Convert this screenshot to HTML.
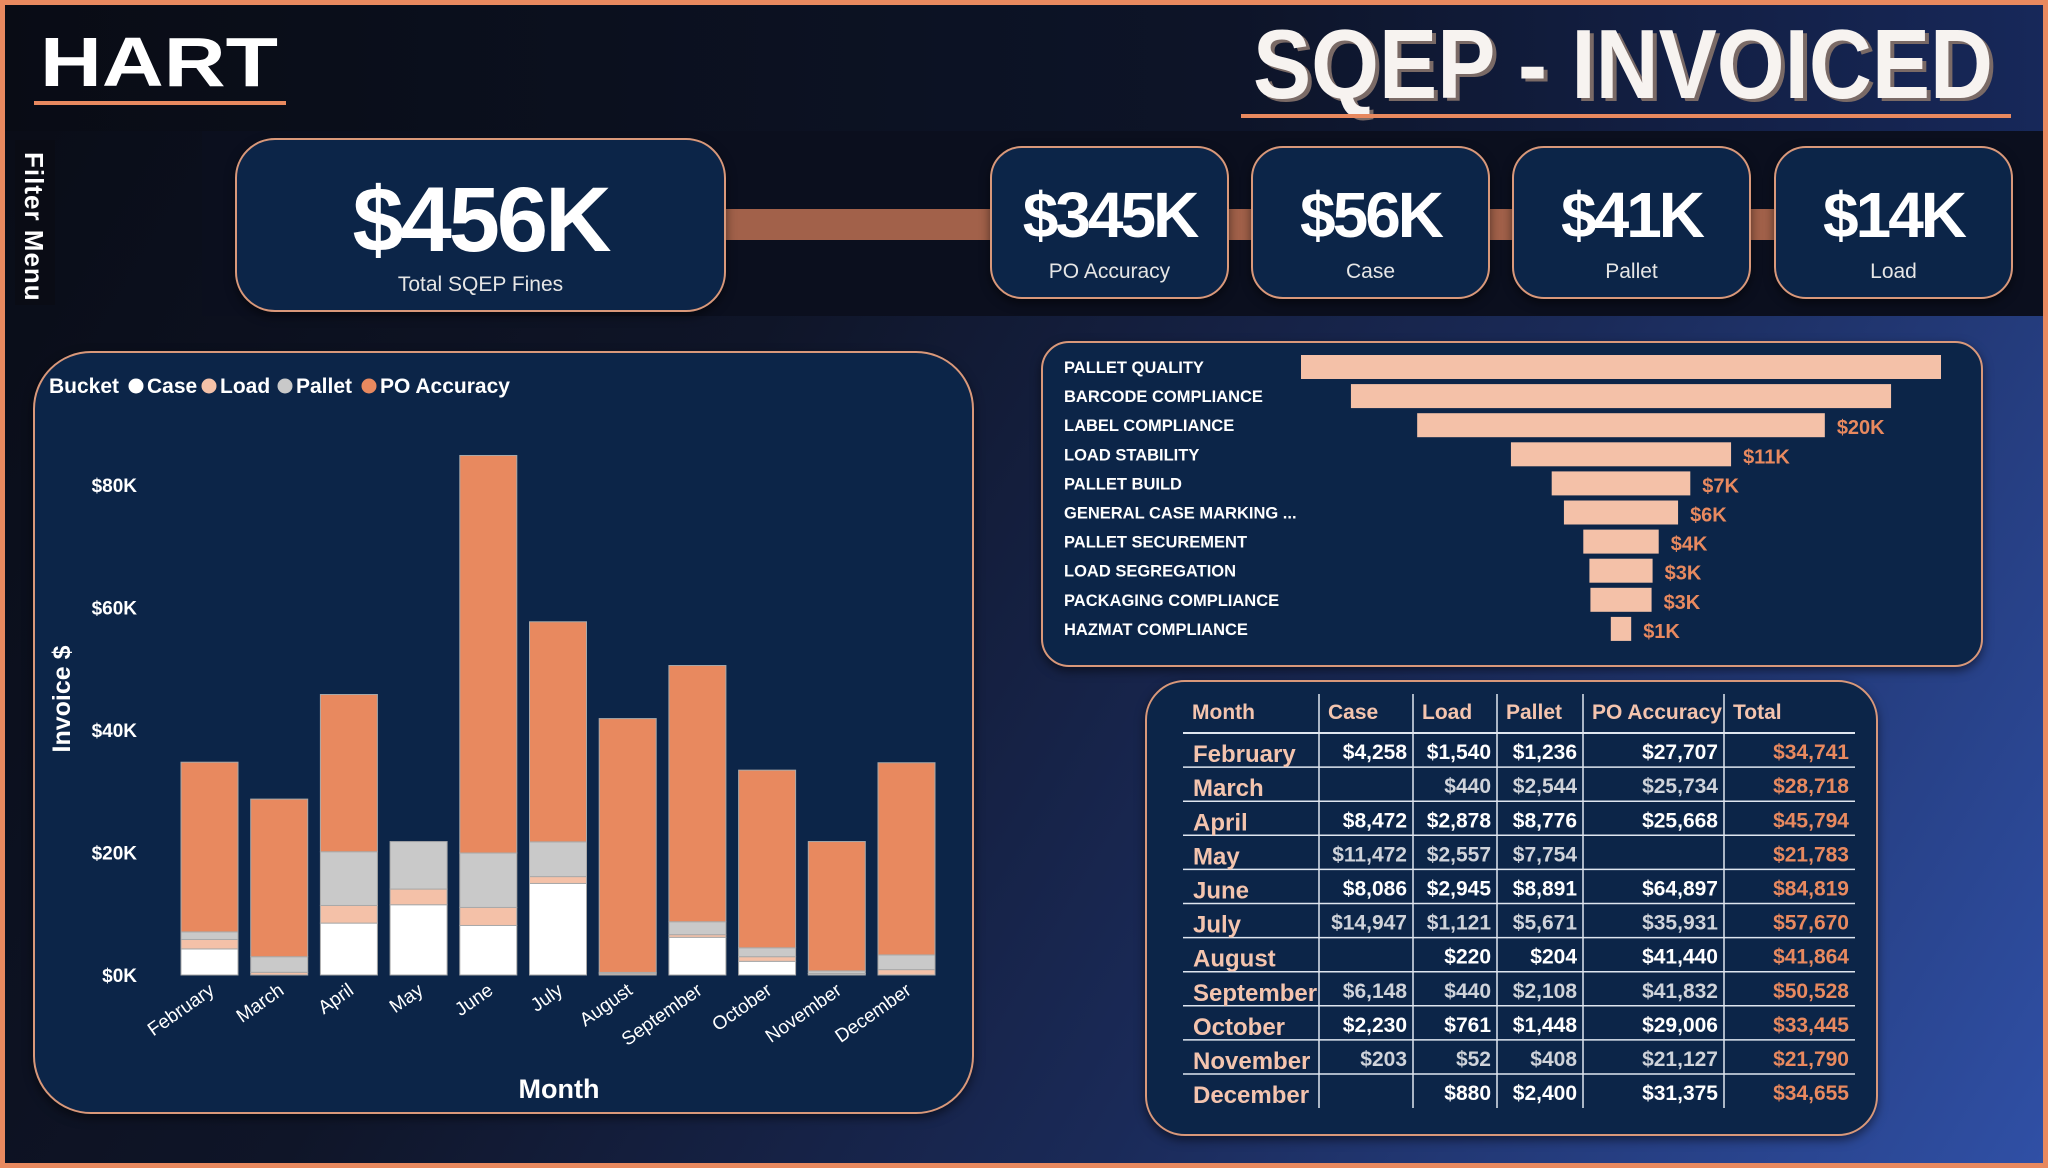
<!DOCTYPE html>
<html><head><meta charset="utf-8"><style>
*{margin:0;padding:0;box-sizing:border-box}
body{width:2048px;height:1168px;overflow:hidden;font-family:"Liberation Sans",sans-serif;background:#0b0f1c}
#root{position:absolute;left:0;top:0;width:2048px;height:1168px;background:linear-gradient(120deg,#090c16 0%,#0f1528 35%,#1a2a58 65%,#3050a6 100%);overflow:hidden}
#frame{position:absolute;left:0;top:0;width:2048px;height:1168px;border:5px solid #e8895f;pointer-events:none}
.abs{position:absolute}
.card{position:absolute;background:#0c2548;border:2px solid #d9987a;box-shadow:0 4px 10px rgba(0,0,0,.5)}
.kv{position:absolute;width:100%;text-align:center;color:#fff;font-weight:bold;letter-spacing:-3px}
.kl{position:absolute;width:100%;text-align:center;color:#e6e6e6;font-size:21px}
</style></head><body>
<div id="root">
  <div class="abs" style="left:0;top:0;width:2048px;height:131px;background:linear-gradient(90deg,#090c15,#0d1428 60%,#17285a)"></div>
  <svg class="abs" style="left:0;top:0" width="2048" height="131">
    <text x="40" y="86" textLength="238" lengthAdjust="spacingAndGlyphs" font-family="Liberation Sans" font-weight="bold" font-size="70" fill="#fff">HART</text>
    <rect x="34" y="101" width="252" height="4" fill="#e8895f"/>
    <text x="1257" y="101" textLength="740" lengthAdjust="spacingAndGlyphs" font-family="Liberation Sans" font-weight="bold" font-size="98" fill="#7a6a66">SQEP - INVOICED</text>
    <text x="1253" y="98" textLength="740" lengthAdjust="spacingAndGlyphs" font-family="Liberation Sans" font-weight="bold" font-size="98" fill="#f7f3f0">SQEP - INVOICED</text>
    <rect x="1241" y="114" width="770" height="4" fill="#e8895f"/>
  </svg>
  <div class="abs" style="left:202px;top:131px;width:1846px;height:185px;background:#0b0f1e"></div>
  <div class="abs" style="left:15px;top:140px;width:40px;height:165px;background:#0a0c15">
    <div style="position:absolute;left:34px;top:12px;transform:rotate(90deg);transform-origin:0 0;white-space:nowrap;color:#fff;font-size:26px;font-weight:bold;letter-spacing:1px">Filter Menu</div>
  </div>
  <div class="abs" style="left:726px;top:209px;width:1050px;height:31px;background:#a2614a"></div>
  <div class="card" style="left:235px;top:138px;width:491px;height:174px;border-radius:40px">
    <div class="kv" style="top:28px;font-size:92px">$456K</div>
    <div class="kl" style="top:133px">Total SQEP Fines</div>
  </div>
  <div class="card" style="left:990px;top:146px;width:239px;height:153px;border-radius:32px">
    <div class="kv" style="top:30px;font-size:64px">$345K</div><div class="kl" style="top:112px">PO Accuracy</div></div>
  <div class="card" style="left:1251px;top:146px;width:239px;height:153px;border-radius:32px">
    <div class="kv" style="top:30px;font-size:64px">$56K</div><div class="kl" style="top:112px">Case</div></div>
  <div class="card" style="left:1512px;top:146px;width:239px;height:153px;border-radius:32px">
    <div class="kv" style="top:30px;font-size:64px">$41K</div><div class="kl" style="top:112px">Pallet</div></div>
  <div class="card" style="left:1774px;top:146px;width:239px;height:153px;border-radius:32px">
    <div class="kv" style="top:30px;font-size:64px">$14K</div><div class="kl" style="top:112px">Load</div></div>

  <div class="card" style="left:33px;top:351px;width:941px;height:763px;border-radius:58px"></div>
  <svg id="bar" class="abs" style="left:0;top:0" width="2048" height="1168"></svg>

  <div class="card" style="left:1041px;top:341px;width:942px;height:326px;border-radius:28px"></div>
  <svg id="fun" class="abs" style="left:0;top:0" width="2048" height="1168"></svg>

  <div class="card" style="left:1145px;top:680px;width:733px;height:456px;border-radius:40px"></div>
  <svg id="tbl" class="abs" style="left:0;top:0" width="2048" height="1168"></svg>
  <div id="frame"></div>
</div>
<script>
const months=["February","March","April","May","June","July","August","September","October","November","December"];
const caseV=[4258,0,8472,11472,8086,14947,0,6148,2230,203,0];
const loadV=[1540,440,2878,2557,2945,1121,220,440,761,52,880];
const palletV=[1236,2544,8776,7754,8891,5671,204,2108,1448,408,2400];
const poV=[27707,25734,25668,0,64897,35931,41440,41832,29006,21127,31375];
const yTicks=[0,20000,40000,60000,80000];
const yTickLabels=["$0K","$20K","$40K","$60K","$80K"];
const seriesNames=["Case","Load","Pallet","PO Accuracy"];
const seriesColors=["#ffffff","#f4c1a8","#c9c9c9","#e8895f"];

const funnelCats=["PALLET QUALITY","BARCODE COMPLIANCE","LABEL COMPLIANCE","LOAD STABILITY","PALLET BUILD","GENERAL CASE MARKING ...","PALLET SECUREMENT","LOAD SEGREGATION","PACKAGING COMPLIANCE","HAZMAT COMPLIANCE"];
const funnelVals=[31400,26500,20000,10800,6800,5600,3700,3100,3000,1000];
const funnelLabels=["","","$20K","$11K","$7K","$6K","$4K","$3K","$3K","$1K"];

const NS="http://www.w3.org/2000/svg";
function mk(p,t,a){const e=document.createElementNS(NS,t);for(const k in a)e.setAttribute(k,a[k]);p.appendChild(e);return e;}
const fmt=v=>v?"$"+v.toLocaleString("en-US"):"";

const bar=document.getElementById("bar");
const y0=975,pxPer=122.5/20000;
const yS=v=>y0-v*pxPer;
const bandX=i=>181+i*69.7;
const bw=57;
yTicks.forEach((t,i)=>{const e=mk(bar,"text",{x:137,y:yS(t)+7,"text-anchor":"end",fill:"#fff","font-size":19,"font-weight":"bold"});e.textContent=yTickLabels[i];

});
const series=[caseV,loadV,palletV,poV];
months.forEach((m,i)=>{let acc=0;series.forEach((s,k)=>{const v=s[i];if(v>0){const r=mk(bar,"rect",{x:bandX(i),y:yS(acc+v),width:bw,height:v*pxPer,fill:seriesColors[k],stroke:"#a9a9a9","stroke-width":1});

}acc+=v;});
const cx=bandX(i)+bw/2+6,cy=993;const t=mk(bar,"text",{x:cx,y:cy,"text-anchor":"end",fill:"#fff","font-size":19,transform:`rotate(-35 ${cx} ${cy})`});t.textContent=m;

});
let t=mk(bar,"text",{x:559,y:1098,"text-anchor":"middle",fill:"#fff","font-size":27,"font-weight":"bold"});t.textContent="Month";


t=mk(bar,"text",{x:70,y:699,"text-anchor":"middle",fill:"#fff","font-size":25,"font-weight":"bold",transform:"rotate(-90 70 699)"});t.textContent="Invoice $";


t=mk(bar,"text",{x:49,y:393,fill:"#fff","font-size":21,"font-weight":"bold"});t.textContent="Bucket";


const legX=[136,209,285,369];
seriesNames.forEach((n,k)=>{const g=mk(bar,"g",{});


mk(g,"circle",{cx:legX[k],cy:386,r:7.5,fill:seriesColors[k]});const e=mk(g,"text",{x:legX[k]+11,y:393,fill:"#fff","font-size":21,"font-weight":"bold"});e.textContent=n;});

const fun=document.getElementById("fun");
const fc=1621,fScale=640/funnelVals[0];
funnelCats.forEach((c,i)=>{const cy=367+i*29.1;
const l=mk(fun,"text",{x:1064,y:cy+6,fill:"#fff","font-size":16.5,"font-weight":"bold"});l.textContent=c;


const w=funnelVals[i]*fScale;const r=mk(fun,"rect",{x:fc-w/2,y:cy-12,width:w,height:24,fill:"#f4c1a8"});


if(funnelLabels[i]){const v=mk(fun,"text",{x:fc+w/2+12,y:cy+9,fill:"#e8895f","font-size":20,"font-weight":"bold"});v.textContent=funnelLabels[i];

}});

const tb=document.getElementById("tbl");
const colX=[1183,1319,1413,1497,1583,1724,1855];
const heads=["Month","Case","Load","Pallet","PO Accuracy","Total"];
heads.forEach((h,j)=>{const e=mk(tb,"text",{x:colX[j]+9,y:719,fill:"#f4c4ae","font-size":21,"font-weight":"bold"});e.textContent=h;

});
mk(tb,"line",{x1:1183,x2:1855,y1:733,y2:733,stroke:"#dfe6f0","stroke-width":2});
colX.slice(1,6).forEach(x=>mk(tb,"line",{x1:x,x2:x,y1:694,y2:1108,stroke:"#dfe6f0","stroke-width":1.5}));
const totals=months.map((m,i)=>caseV[i]+loadV[i]+palletV[i]+poV[i]);
months.forEach((m,i)=>{const yb=733+(i+1)*34.1,ty=yb-8;
if(i<10)mk(tb,"line",{x1:1183,x2:1855,y1:yb,y2:yb,stroke:"#dfe6f0","stroke-width":1.5});
const col=i%2?"#cfd3da":"#ffffff";
const e=mk(tb,"text",{x:1193,y:ty+3,fill:"#f4c4ae","font-size":24,"font-weight":"bold"});e.textContent=m;


[caseV,loadV,palletV,poV,totals].forEach((s,j)=>{const c=mk(tb,"text",{x:colX[j+2]-6,y:ty,"text-anchor":"end",fill:j==4?"#e8895f":col,"font-size":21,"font-weight":"bold"});c.textContent=fmt(s[i]);

});});
</script>
</body></html>
